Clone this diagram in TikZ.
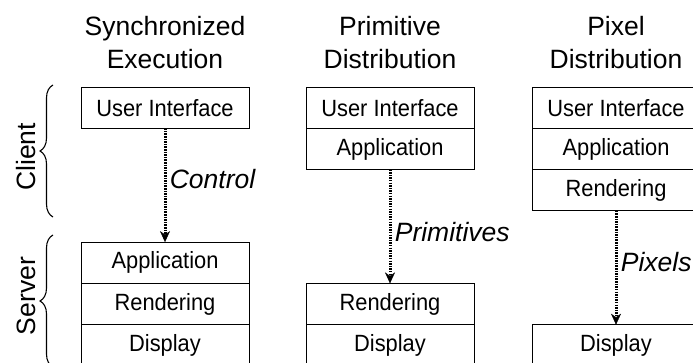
\documentclass[tikz,border=0pt]{standalone}
\usepackage{fontspec}
\setmainfont{Liberation Sans}
\newfontfamily\boxfont[FakeStretch=0.93]{Liberation Sans}
\usetikzlibrary{arrows.meta,positioning,decorations.pathreplacing}

\begin{document}
\begin{tikzpicture}[x=1pt,y=-1pt,line width=0.8pt,
    layer/.style={rectangle,draw=black,minimum width=168pt,minimum height=41.3pt,
        inner sep=0pt,outer sep=0pt,font=\boxfont\fontsize{23.5}{28}\selectfont},
    title/.style={align=center,font=\fontsize{26.5}{33}\selectfont},
    side/.style={rotate=90,font=\fontsize{26.5}{30}\selectfont},
    brace/.style={decorate,decoration={brace,amplitude=13pt},line width=1.1pt},
    flow/.style={line width=3pt,dash pattern=on 1.5pt off 1.1pt,
        -{Stealth[length=11pt,width=10pt,inset=3.5pt,line width=0.4pt]}},
    lbl/.style={right,font=\itshape\fontsize{26.5}{30}\selectfont}]
    \useasboundingbox (0,0) rectangle (693,363);
    \clip (0,0) rectangle (693,363);

    % titles
    \node[title,name=t1,anchor=base] at (165,69) {Synchronized\\Execution};
    \node[title,name=t2,anchor=base] at (390,69) {Primitive\\Distribution};
    \node[title,name=t3,anchor=base] at (616,69) {Pixel\\Distribution};

    % client / server
    \node[side,name=client] at (26,157) {Client};
    \node[side,name=server] at (26,296) {Server};
    \draw[brace] (53,217) -- (53,85);
    \draw[brace] (53,367) -- (53,235);

    % synchronized execution
    \node[layer,name=ui1,anchor=north] at (165,87) {User Interface};
    \node[layer,name=app1,below=113.8pt of ui1] {Application};
    \node[layer,name=ren1,below=0pt of app1] {Rendering};
    \node[layer,name=dis1,below=0pt of ren1] {Display};

    % primitive distribution
    \node[layer,name=ui2,anchor=north] at (390,87) {User Interface};
    \node[layer,name=app2,below=0pt of ui2] {Application};
    \node[layer,name=ren2,below=113.8pt of app2] {Rendering};
    \node[layer,name=dis2,below=0pt of ren2] {Display};

    % pixel distribution
    \node[layer,name=ui3,anchor=north] at (616,87) {User Interface};
    \node[layer,name=app3,below=0pt of ui3] {Application};
    \node[layer,name=ren3,below=0pt of app3] {Rendering};
    \node[layer,name=dis3,below=113.8pt of ren3] {Display};

    \path[flow] (ui1) edge node[lbl,pos=0.45] {Control} (app1)
                (app2) edge node[lbl,pos=0.55] {Primitives} (ren2)
                (ren3) edge node[lbl,pos=0.45] {Pixels} (dis3);
\end{tikzpicture}
\end{document}
